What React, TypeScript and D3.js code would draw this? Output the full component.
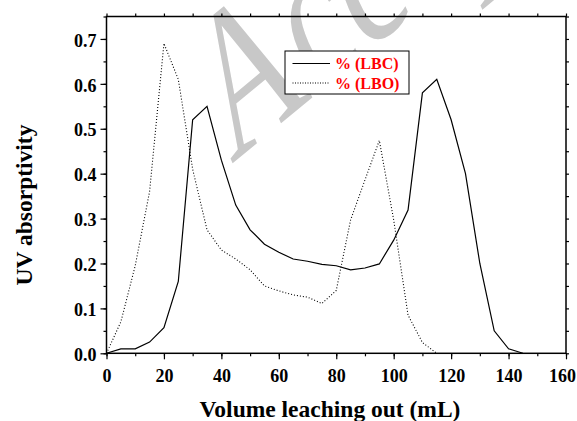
import React, { useEffect, useRef } from "react";
import * as d3 from "d3";

const volumeLBC = [0, 5, 10, 15, 20, 25, 30, 35, 40, 45, 50, 55, 60, 65, 70, 75, 80, 85, 90, 95, 100, 105, 110, 115, 120, 125, 130, 135, 140, 145];
const valuesLBC = [0, 0.01, 0.01, 0.025, 0.057, 0.16, 0.52, 0.55, 0.43, 0.33, 0.275, 0.243, 0.225, 0.21, 0.205, 0.198, 0.195, 0.186, 0.19, 0.199, 0.252, 0.319, 0.58, 0.61, 0.52, 0.4, 0.2, 0.05, 0.01, 0];

const volumeLBO = [0, 5, 10, 15, 20, 25, 30, 35, 40, 45, 50, 55, 60, 65, 70, 75, 80, 85, 90, 95, 100, 105, 110, 115];
const valuesLBO = [0, 0.07, 0.195, 0.36, 0.69, 0.61, 0.41, 0.275, 0.23, 0.21, 0.186, 0.15, 0.139, 0.13, 0.125, 0.111, 0.14, 0.297, 0.386, 0.474, 0.297, 0.085, 0.024, 0];

const xTicks = [0, 20, 40, 60, 80, 100, 120, 140, 160];
const yTicks = [0, 0.1, 0.2, 0.3, 0.4, 0.5, 0.6, 0.7];
const seriesNames = ["% (LBC)", "% (LBO)"];

const FONT = "'Liberation Serif', 'Times New Roman', serif";

export default function App() {
  const ref = useRef<SVGSVGElement>(null);

  useEffect(() => {
    draw();
  }, []);

  const draw = () => {
    const svg = d3.select(ref.current);
    svg.selectAll("*").remove();

    const left = 106.5;
    const right = 566;
    const top = 16.5;
    const bottom = 353.3;

    const x = d3.scaleLinear().domain([0, 160]).range([left, right]);
    const y = d3.scaleLinear().domain([0, 0.75]).range([bottom, top]);

    // grey watermark, sits under the chart
    svg
      .append("text")
      .attr("transform", "matrix(1.13,-0.935,0.80,1.828,231.4,164.2)")
      .attr("font-family", FONT)
      .attr("font-size", 100)
      .attr("fill", "#c8c8c8")
      .text("Accepted Manuscript");

    // minor ticks on all four sides
    const minorX = d3.range(0, 161, 10);
    const minorY = d3.range(0, 0.751, 0.05);

    svg
      .append("g")
      .attr("transform", `translate(0,${bottom})`)
      .call(d3.axisBottom(x).tickValues(minorX).tickSize(3).tickFormat(() => ""))
      .call((g) => g.select(".domain").remove());
    svg
      .append("g")
      .attr("transform", `translate(0,${top})`)
      .call(d3.axisTop(x).tickValues(minorX).tickSize(3).tickFormat(() => ""))
      .call((g) => g.select(".domain").remove());
    svg
      .append("g")
      .attr("transform", `translate(${left},0)`)
      .call(d3.axisLeft(y).tickValues(minorY).tickSize(3).tickFormat(() => ""))
      .call((g) => g.select(".domain").remove());
    svg
      .append("g")
      .attr("transform", `translate(${right},0)`)
      .call(d3.axisRight(y).tickValues(minorY).tickSize(3).tickFormat(() => ""))
      .call((g) => g.select(".domain").remove());

    // major axes
    const xAxis = svg
      .append("g")
      .attr("transform", `translate(0,${bottom})`)
      .call(d3.axisBottom(x).tickValues(xTicks).tickSize(6).tickPadding(10).tickFormat(d3.format("d")));
    xAxis.select(".domain").remove();
    xAxis
      .selectAll("text")
      .filter((d) => d === 160)
      .attr("dx", -4);

    const yAxis = svg
      .append("g")
      .attr("transform", `translate(${left},0)`)
      .call(d3.axisLeft(y).tickValues(yTicks).tickSize(6).tickPadding(4).tickFormat(d3.format(".1f")));
    yAxis.select(".domain").remove();
    yAxis.selectAll("text").attr("dy", "0.4em");

    svg
      .selectAll(".tick line")
      .attr("stroke", "#000")
      .attr("stroke-width", 1.2);
    svg
      .selectAll(".tick text")
      .attr("font-family", FONT)
      .attr("font-size", 18)
      .attr("font-weight", "bold")
      .attr("fill", "#000");

    // frame
    svg
      .append("rect")
      .attr("x", left)
      .attr("y", top)
      .attr("width", right - left)
      .attr("height", bottom - top)
      .attr("fill", "none")
      .attr("stroke", "#000")
      .attr("stroke-width", 1.5);

    const lbc = volumeLBC.map((v, i) => [x(v), y(valuesLBC[i])] as [number, number]);
    const lbo = volumeLBO.map((v, i) => [x(v), y(valuesLBO[i])] as [number, number]);

    svg
      .append("path")
      .attr("d", d3.line()(lbc))
      .attr("fill", "none")
      .attr("stroke", "#000")
      .attr("stroke-width", 1.2);

    svg
      .append("path")
      .attr("d", d3.line()(lbo))
      .attr("fill", "none")
      .attr("stroke", "#000")
      .attr("stroke-width", 1.1)
      .attr("stroke-dasharray", "1,2");

    // axis titles
    svg
      .append("text")
      .attr("x", 330)
      .attr("y", 416.5)
      .attr("text-anchor", "middle")
      .attr("font-family", FONT)
      .attr("font-size", 23.5)
      .attr("font-weight", "bold")
      .text("Volume leaching out (mL)");

    svg
      .append("text")
      .attr("transform", "translate(32,205) rotate(-90)")
      .attr("text-anchor", "middle")
      .attr("font-family", FONT)
      .attr("font-size", 23.5)
      .attr("font-weight", "bold")
      .text("UV absorptivity");

    // legend
    const legend = svg.append("g");
    legend
      .append("rect")
      .attr("x", 285)
      .attr("y", 51)
      .attr("width", 124)
      .attr("height", 43)
      .attr("fill", "#fff")
      .attr("stroke", "#000")
      .attr("stroke-width", 1);

    seriesNames.forEach((name, i) => {
      const cy = 63.5 + i * 19.5;
      legend
        .append("line")
        .attr("x1", 292.5)
        .attr("x2", 330)
        .attr("y1", cy)
        .attr("y2", cy)
        .attr("stroke", "#000")
        .attr("stroke-width", 1.1)
        .attr("stroke-dasharray", i === 0 ? null : "1,1.5");
      legend
        .append("text")
        .attr("x", 335)
        .attr("y", cy + 5.8)
        .attr("font-family", FONT)
        .attr("font-size", 16)
        .attr("font-weight", "bold")
        .attr("fill", "#ff0000")
        .text(name);
    });
  };

  return (
    <div style={{ position: "absolute", left: 0, top: 0 }}>
      <svg ref={ref} width={577} height={421} style={{ display: "block", background: "#fff" }} />
    </div>
  );
}
